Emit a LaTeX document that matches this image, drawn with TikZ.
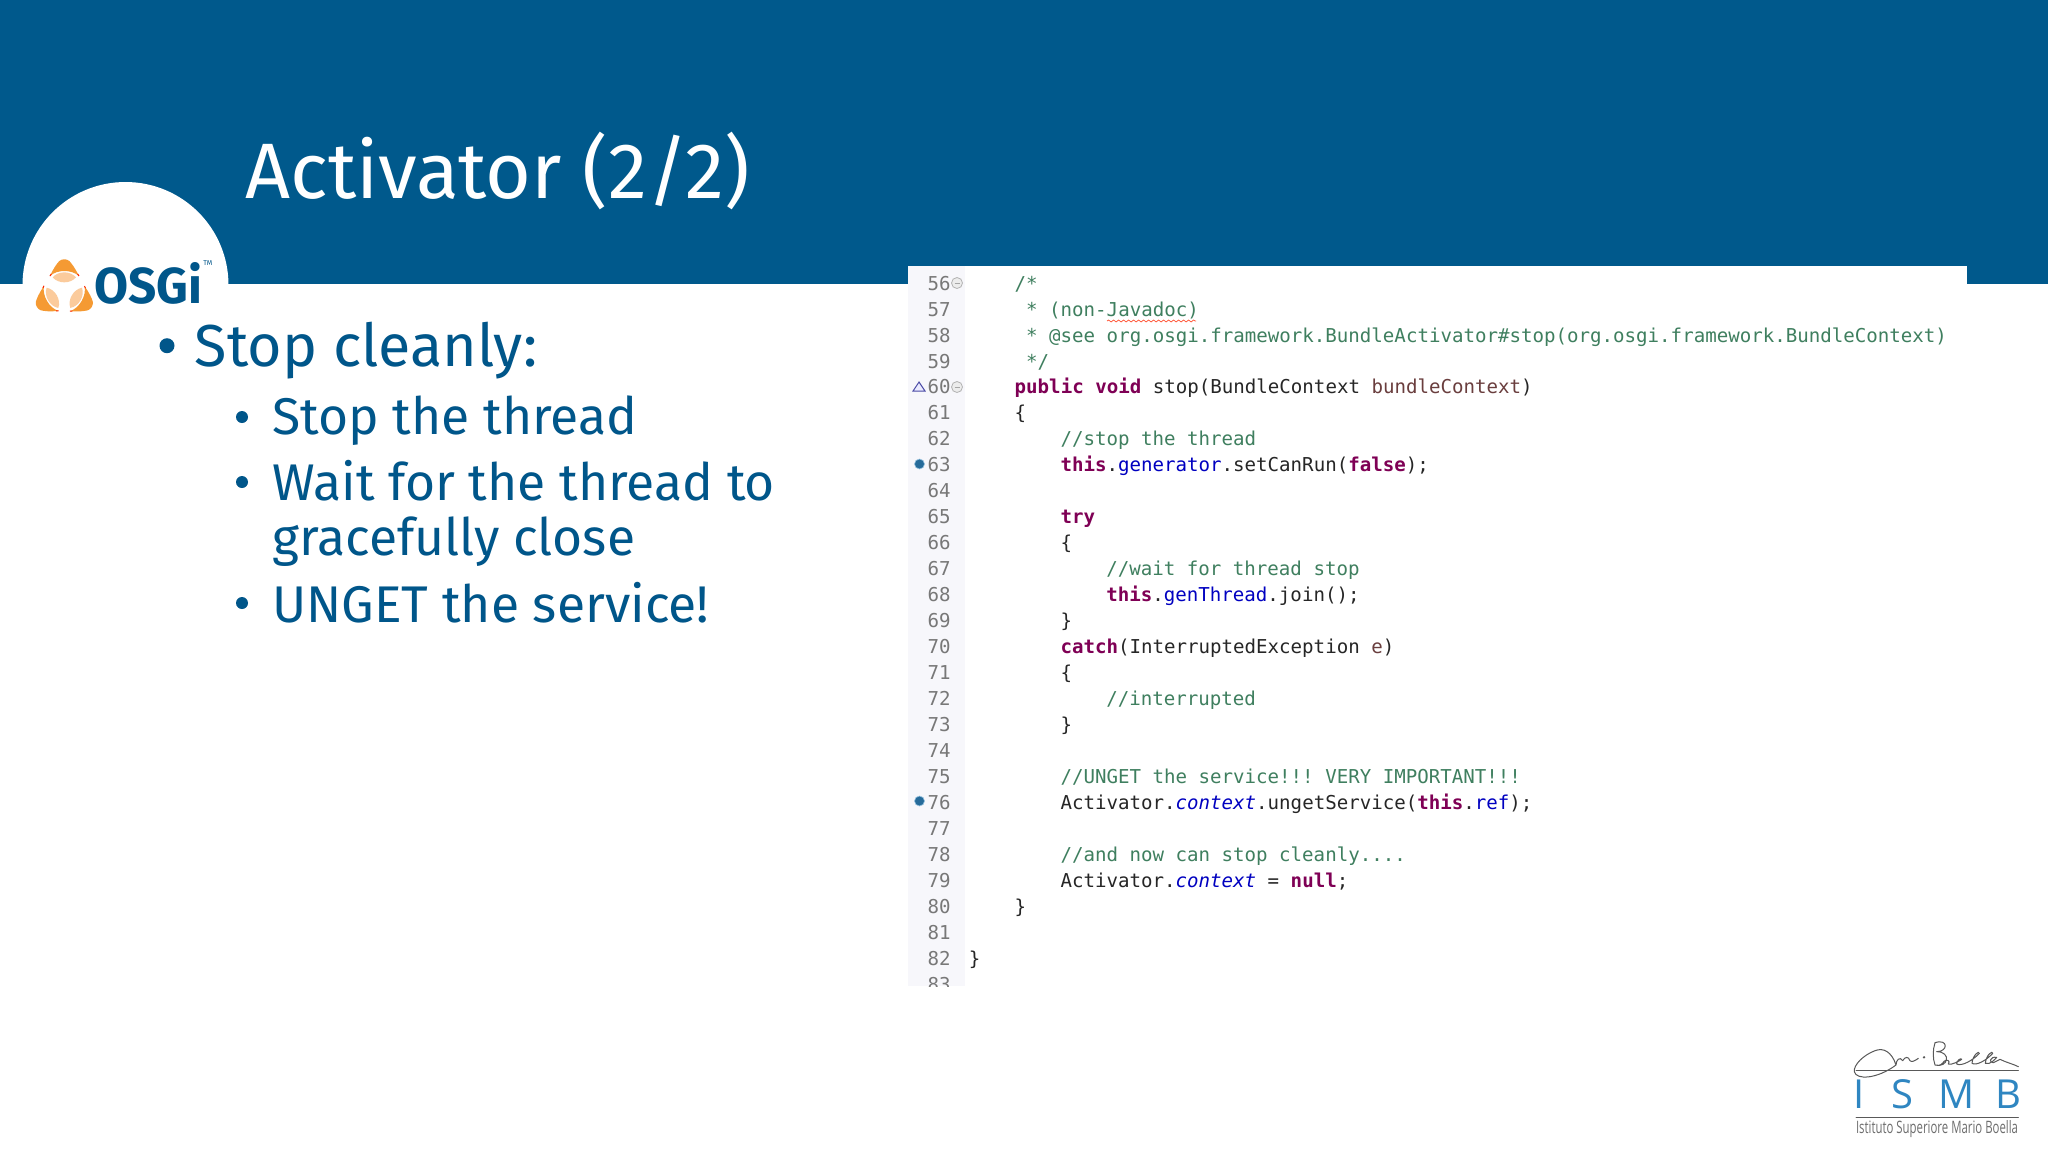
\documentclass[tikz,border=0pt]{standalone}
\usepackage{fontspec}
\usetikzlibrary{decorations.pathmorphing}
\setmainfont{Fira Sans}
\setmonofont{DejaVu Sans Mono}
\newfontfamily\ismbfont{Open Sans}
\definecolor{hdr}{HTML}{00598C}
\definecolor{txtblue}{HTML}{00568A}
\definecolor{cmt}{HTML}{3F7F5F}
\definecolor{kw}{HTML}{7F0055}
\definecolor{fld}{HTML}{0000C0}
\definecolor{prm}{HTML}{6A3E3E}
\definecolor{lnum}{HTML}{787878}
\definecolor{gutter}{HTML}{F7F7FB}
\definecolor{orng}{HTML}{F59A33}
\definecolor{lite}{HTML}{FBCB9C}
\definecolor{ismbblue}{HTML}{2F86C1}
\definecolor{ismbgray}{HTML}{6E6E6E}
\newcommand{\K}[1]{\textcolor{kw}{\bfseries #1}}
\newcommand{\F}[1]{\textcolor{fld}{#1}}
\newcommand{\SF}[1]{\textcolor{fld}{\itshape #1}}
\newcommand{\C}[1]{\textcolor{cmt}{#1}}
\newcommand{\Pm}[1]{\textcolor{prm}{#1}}
\tikzset{
  titletext/.style={anchor=base west,inner sep=0pt,text=white,font=\fontsize{39.3}{46}\selectfont},
  lvlone/.style={anchor=base west,inner sep=0pt,text=txtblue,font=\fontsize{29.6}{34}\selectfont},
  lvltwo/.style={anchor=base west,inner sep=0pt,text=txtblue,font=\fontsize{25.8}{30}\selectfont},
  bulletone/.style={circle,fill=txtblue,inner sep=0pt,minimum size=7.5pt},
  bullettwo/.style={circle,fill=txtblue,inner sep=0pt,minimum size=6pt},
  codetext/.style={anchor=base west,inner sep=0pt,text=black!85,font=\ttfamily\fontsize{9.56}{12}\selectfont},
  numtext/.style={anchor=base east,inner sep=0pt,text=lnum,font=\ttfamily\fontsize{9.56}{12}\selectfont},
  bpdot/.style={circle,fill=ismbblue!80!black,draw=ismbblue!50,line width=.3pt,inner sep=0pt,minimum size=5pt},
  foldmark/.style={circle,draw=gray!60,fill=gray!15,line width=.4pt,inner sep=0pt,minimum size=5.5pt},
  ismbletter/.style={anchor=base,inner sep=0pt,text=ismbblue,font=\ismbfont\fontsize{20}{24}\selectfont},
  sigline/.style={draw=black!65,line width=.5pt,line cap=round,line join=round},
}
% code line: number, column, text
\newcommand{\codeline}[3]{%
  \node[numtext] (n#1) at (951,{283.6+(#1-56)*25.97+6.5}) {#1};
  \node[codetext] (c#1) at ({968.5+#2*11.45},{283.6+(#1-56)*25.97+6.5}) {#3};
}
\newcommand{\numline}[1]{%
  \node[numtext] (n#1) at (951,{283.6+(#1-56)*25.97+6.5}) {#1};
}
\begin{document}
\begin{tikzpicture}[x=0.5pt,y=-0.5pt]
\useasboundingbox (0,0) rectangle (2048,1152);
\fill[white] (0,0) rectangle (2048,1152);
\fill[hdr] (0,0) rectangle (2048,284);
\fill[white] (125.5,285) circle[radius=103];
\fill[white] (0,284) rectangle (2048,1152);

% title
\node[titletext] (title) at (245,198) {Activator (2/2)};

% OSGi logo
\begin{scope}[shift={(0,150)},x=1/6 pt,y=-1/6 pt]
  \foreach \a in {0,120,240}{
    \begin{scope}[rotate around={\a:(193,423)}]
      \fill[orng] (150,378) .. controls (162,352) and (170,342) .. (178,333)
        .. controls (187,326) and (199,326) .. (208,333)
        .. controls (216,342) and (224,352) .. (237,378)
        .. controls (215,358) and (171,358) .. (150,378) -- cycle;
      \fill[lite] (158,382) .. controls (175,362) and (211,362) .. (228,382)
        .. controls (211,402) and (175,402) .. (158,382) -- cycle;
      \draw[red!70!orange,line width=.5pt] (150,378) -- (154,372) (237,378) -- (233,372);
    \end{scope}
  }
\end{scope}
\node[anchor=base west,inner sep=0pt,text=txtblue,font=\bfseries] (osgi) at (94,303)
  {\resizebox{54pt}{20.5pt}{OSGi}};
\node[anchor=base west,inner sep=0pt,text=txtblue,font=\fontsize{3.5}{4}\selectfont] (tm) at (203,265) {TM};

% bullets
\node[bulletone] (b1) at (167,345.7) {};
\node[lvlone] (t1) at (194.5,366) {Stop cleanly:};
\node[bullettwo] (b2) at (242,417) {};
\node[lvltwo] (t2) at (272,434) {Stop the thread};
\node[bullettwo] (b3) at (242,482) {};
\node[lvltwo] (t3) at (272,500.5) {Wait for the thread to};
\node[lvltwo] (t3b) at (272,555.5) {gracefully close};
\node[bullettwo] (b4) at (242,603) {};
\node[lvltwo] (t4) at (272,622) {UNGET the service!};

% code panel
\fill[white] (908,266) rectangle (1967,986);
\fill[gutter] (908,266) rectangle (965,986);

\codeline{56}{4}{\C{/*}}
\codeline{57}{5}{\C{* (non-Javadoc)}}
\codeline{58}{5}{\C{* @see org.osgi.framework.BundleActivator\#stop(org.osgi.framework.BundleContext)}}
\codeline{59}{5}{\C{*/}}
\codeline{60}{4}{\K{public} \K{void} stop(BundleContext \Pm{bundleContext})}
\codeline{61}{4}{\{}
\codeline{62}{8}{\C{//stop the thread}}
\codeline{63}{8}{\K{this}.\F{generator}.setCanRun(\K{false});}
\numline{64}
\codeline{65}{8}{\K{try}}
\codeline{66}{8}{\{}
\codeline{67}{12}{\C{//wait for thread stop}}
\codeline{68}{12}{\K{this}.\F{genThread}.join();}
\codeline{69}{8}{\}}
\codeline{70}{8}{\K{catch}(InterruptedException \Pm{e})}
\codeline{71}{8}{\{}
\codeline{72}{12}{\C{//interrupted}}
\codeline{73}{8}{\}}
\numline{74}
\codeline{75}{8}{\C{//UNGET the service!!! VERY IMPORTANT!!!}}
\codeline{76}{8}{Activator.\SF{context}.ungetService(\K{this}.\F{ref});}
\numline{77}
\codeline{78}{8}{\C{//and now can stop cleanly....}}
\codeline{79}{8}{Activator.\SF{context} = \K{null};}
\codeline{80}{4}{\}}
\numline{81}
\codeline{82}{0}{\}}
\begin{scope}
  \clip (908,966) rectangle (1967,986);
  \numline{83}
\end{scope}

% squiggle under Javadoc
\draw[red!70!orange!80,line width=.35pt,decorate,decoration={snake,amplitude=.5pt,segment length=2.5pt}]
  (1107,321) -- (1196,321);

% gutter marks
\node[foldmark] (f56) at (957,283) {};
\draw[gray!70,line width=.4pt] (954.5,283) -- (959.5,283);
\node[foldmark] (f60) at (957,387) {};
\draw[gray!70,line width=.4pt] (954.5,387) -- (959.5,387);
\draw[blue!50!black!70,line width=.5pt,fill=blue!8] (913,391) -- (925,391) -- (919,382) -- cycle;
\node[bpdot] (bp63) at (919.5,464) {};
\node[bpdot] (bp76) at (919.5,801) {};

% ISMB logo
\begin{scope}[shift={(1820,1020)},x=1/6 pt,y=-1/6 pt]
  \draw[sigline] (108,152) -- (595,152);
  \draw[sigline] (108,291) -- (595,291);
  \draw[sigline] (228,135) .. controls (215,95) and (190,82) .. (165,92)
    .. controls (130,105) and (100,135) .. (103,155)
    .. controls (108,180) and (170,178) .. (228,135)
    .. controls (228,120) and (240,108) .. (248,122)
    .. controls (255,110) and (265,108) .. (270,122)
    .. controls (275,128) and (285,122) .. (295,115);
  \fill[black!65] (312,112) circle[radius=4];
  \draw[sigline] (345,68) .. controls (338,90) and (338,115) .. (345,135)
    (345,68) .. controls (385,55) and (385,95) .. (350,95)
    .. controls (395,95) and (385,145) .. (345,135)
    .. controls (360,140) and (368,130) .. (372,124)
    .. controls (380,116) and (392,122) .. (385,132)
    .. controls (395,136) and (420,122) .. (425,118)
    .. controls (425,112) and (408,122) .. (410,132)
    .. controls (425,140) and (460,120) .. (478,100)
    .. controls (478,90) and (458,105) .. (456,130)
    .. controls (470,138) and (500,120) .. (518,100)
    .. controls (518,90) and (498,105) .. (496,130)
    .. controls (510,135) and (525,118) .. (530,112)
    .. controls (510,108) and (505,130) .. (520,128)
    .. controls (530,126) and (535,118) .. (540,118)
    .. controls (560,128) and (580,132) .. (595,140);
\end{scope}
\node[ismbletter] (iI) at (1859,1108) {I};
\node[ismbletter] (iS) at (1902,1108) {S};
\node[ismbletter] (iM) at (1957,1108) {M};
\node[ismbletter] (iB) at (2008,1108) {B};
\node[anchor=center,inner sep=0pt,text=ismbgray,font=\ismbfont] (ismbt) at (1937,1129)
  {\resizebox{81pt}{6.5pt}{Istituto Superiore Mario Boella}};
\end{tikzpicture}
\end{document}
